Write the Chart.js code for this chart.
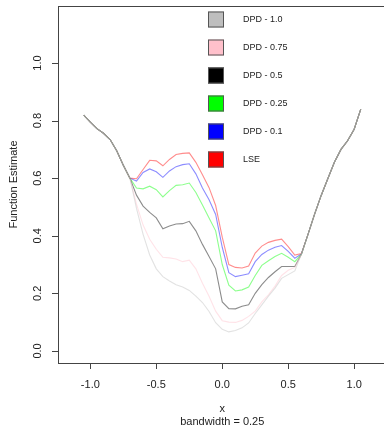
<!DOCTYPE html>
<html>
<head>
<meta charset="utf-8">
<script src="https://cdn.jsdelivr.net/npm/chart.js@4.4.0/dist/chart.umd.min.js"></script>
<style>
html, body { margin: 0; padding: 0; background: #fff; overflow: hidden; }
#wrap { width: 390px; height: 428px; }
</style>
</head>
<body>
<div id="wrap"><canvas id="fnChart" width="390" height="428"></canvas></div>
<script>
// shared tails (all estimates coincide outside the middle section)
const xLeft = [-1.05, -1.00, -0.95, -0.90, -0.85, -0.80, -0.75];
const yLeft = [0.819, 0.795, 0.772, 0.756, 0.734, 0.695, 0.645];
const xRight = [0.65, 0.70, 0.75, 0.80, 0.85, 0.90, 0.95, 1.00, 1.05];
const yRight = [0.405, 0.475, 0.540, 0.598, 0.655, 0.700, 0.730, 0.770, 0.840];

// middle section grid
const xMid = [-0.70, -0.65, -0.60, -0.55, -0.50, -0.45, -0.40, -0.35, -0.30, -0.25, -0.20, -0.15, -0.10, -0.05,
  0.00, 0.05, 0.10, 0.15, 0.20, 0.25, 0.30, 0.35, 0.40, 0.45, 0.50, 0.55, 0.60];

const dpd10 = [0.600, 0.495, 0.405, 0.333, 0.285, 0.258, 0.243, 0.230, 0.222, 0.210, 0.190, 0.168, 0.137, 0.098,
  0.075, 0.066, 0.071, 0.080, 0.097, 0.130, 0.160, 0.190, 0.218, 0.252, 0.265, 0.278, 0.336];
const dpd075 = [0.600, 0.510, 0.437, 0.388, 0.353, 0.325, 0.323, 0.319, 0.310, 0.315, 0.285, 0.235, 0.190, 0.138,
  0.105, 0.100, 0.099, 0.106, 0.120, 0.138, 0.170, 0.195, 0.225, 0.262, 0.280, 0.290, 0.336];
const dpd05 = [0.600, 0.541, 0.503, 0.481, 0.462, 0.424, 0.434, 0.441, 0.442, 0.450, 0.417, 0.370, 0.328, 0.285,
  0.170, 0.147, 0.146, 0.155, 0.160, 0.200, 0.230, 0.255, 0.275, 0.293, 0.293, 0.293, 0.336];
const dpd025 = [0.600, 0.566, 0.563, 0.572, 0.560, 0.535, 0.557, 0.575, 0.577, 0.583, 0.550, 0.507, 0.462, 0.417,
  0.300, 0.228, 0.208, 0.212, 0.222, 0.262, 0.297, 0.313, 0.328, 0.339, 0.325, 0.310, 0.336];
const dpd01 = [0.600, 0.590, 0.620, 0.632, 0.622, 0.603, 0.625, 0.640, 0.647, 0.650, 0.615, 0.566, 0.525, 0.474,
  0.360, 0.272, 0.258, 0.263, 0.268, 0.310, 0.335, 0.350, 0.360, 0.366, 0.346, 0.322, 0.337];
const lse = [0.600, 0.598, 0.630, 0.662, 0.660, 0.643, 0.665, 0.682, 0.686, 0.688, 0.655, 0.612, 0.567, 0.505,
  0.395, 0.300, 0.290, 0.288, 0.295, 0.340, 0.364, 0.377, 0.384, 0.388, 0.362, 0.333, 0.338];

const seriesNames = ['DPD - 1.0', 'DPD - 0.75', 'DPD - 0.5', 'DPD - 0.25', 'DPD - 0.1', 'LSE'];
const seriesValues = [dpd10, dpd075, dpd05, dpd025, dpd01, lse];
const seriesColors = ['#BEBEBE', '#FFC0CB', '#000000', '#00FF00', '#0000FF', '#FF0000'];
const lineColors = ['rgba(190,190,190,0.45)', 'rgba(255,192,203,0.45)', 'rgba(0,0,0,0.45)',
  'rgba(0,255,0,0.45)', 'rgba(0,0,255,0.45)', 'rgba(255,0,0,0.45)'];

const xTicks = [-1.0, -0.5, 0.0, 0.5, 1.0];
const yTicks = [0.0, 0.2, 0.4, 0.6, 0.8, 1.0];

const toPoints = (vals) => {
  const pts = [];
  xLeft.forEach((x, i) => pts.push({ x: x, y: yLeft[i] }));
  xMid.forEach((x, i) => pts.push({ x: x, y: vals[i] }));
  xRight.forEach((x, i) => pts.push({ x: x, y: yRight[i] }));
  return pts;
};

const FONT = '"Liberation Sans", Arial, sans-serif';

// base-graphics style frame, axes, labels and legend
const framePlugin = {
  id: 'frame',
  afterDraw(chart) {
    const ctx = chart.ctx;
    const a = chart.chartArea;
    const xs = chart.scales.x;
    const ys = chart.scales.y;
    ctx.save();
    ctx.strokeStyle = '#444';
    ctx.lineWidth = 1;
    ctx.strokeRect(Math.round(a.left) + 0.5, Math.round(a.top) + 0.5,
      Math.round(a.right - a.left), Math.round(a.bottom - a.top));

    ctx.fillStyle = '#222';
    ctx.font = '11px ' + FONT;
    ctx.textAlign = 'center';
    ctx.textBaseline = 'middle';
    ctx.beginPath();
    xTicks.forEach(v => {
      const px = Math.round(xs.getPixelForValue(v)) + 0.5;
      ctx.moveTo(px, a.bottom);
      ctx.lineTo(px, a.bottom + 6);
    });
    yTicks.forEach(v => {
      const py = Math.round(ys.getPixelForValue(v)) + 0.5;
      ctx.moveTo(a.left, py);
      ctx.lineTo(a.left - 6, py);
    });
    ctx.stroke();

    xTicks.forEach(v => {
      ctx.fillText(v.toFixed(1), xs.getPixelForValue(v), 385);
    });
    yTicks.forEach(v => {
      ctx.save();
      ctx.translate(38, ys.getPixelForValue(v));
      ctx.rotate(-Math.PI / 2);
      ctx.fillText(v.toFixed(1), 0, 0);
      ctx.restore();
    });

    ctx.fillText('x', (a.left + a.right) / 2, 409);
    ctx.fillText('bandwidth = 0.25', (a.left + a.right) / 2, 422);
    ctx.save();
    ctx.translate(14, (a.top + a.bottom) / 2);
    ctx.rotate(-Math.PI / 2);
    ctx.fillText('Function Estimate', 0, 0);
    ctx.restore();

    // legend
    ctx.font = '9px ' + FONT;
    ctx.textAlign = 'left';
    seriesNames.forEach((name, i) => {
      const cy = 19.5 + 28 * i;
      ctx.fillStyle = seriesColors[i];
      ctx.fillRect(208, cy - 8, 16, 16);
      ctx.strokeStyle = '#555';
      ctx.strokeRect(208.5, cy - 7.5, 15, 15);
      ctx.fillStyle = '#222';
      ctx.fillText(name, 243, cy);
    });
    ctx.restore();
  }
};

new Chart(document.getElementById('fnChart'), {
  type: 'line',
  data: {
    datasets: seriesNames.map((name, i) => ({
      label: name,
      data: toPoints(seriesValues[i]),
      borderColor: lineColors[i],
      borderWidth: 1.1,
      pointRadius: 0,
      tension: 0,
      fill: false
    }))
  },
  options: {
    responsive: false,
    animation: false,
    layout: { padding: { left: 58, right: 3.5, top: 6, bottom: 65 } },
    plugins: { legend: { display: false }, tooltip: { enabled: false } },
    scales: {
      x: { type: 'linear', min: -1.245, max: 1.245, display: false },
      y: { type: 'linear', min: -0.042, max: 1.198, display: false }
    }
  },
  plugins: [framePlugin]
});
</script>
</body>
</html>
